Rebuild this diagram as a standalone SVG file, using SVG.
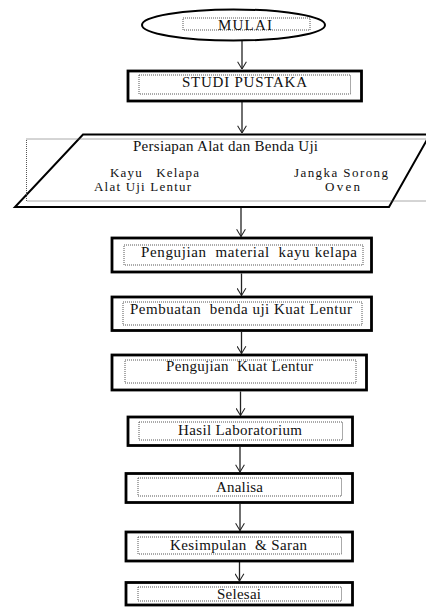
<svg xmlns="http://www.w3.org/2000/svg" width="426" height="607" viewBox="0 0 426 607">
<style>
.box{fill:#fff;stroke:#000;stroke-width:2.8}
.dot{fill:none;stroke:#555;stroke-width:1;stroke-dasharray:1 1}
.t{font-family:"Liberation Serif","DejaVu Serif",serif;font-size:15px;fill:#111}
.s{font-size:13px}
.c{stroke:#222;stroke-width:1.3;fill:none}
</style>
<defs>
<marker id="ah" viewBox="0 0 10 12" refX="9.5" refY="6" markerWidth="8" markerHeight="10" orient="auto" markerUnits="userSpaceOnUse">
<path d="M0.5,0.5 L9.5,6 L0.5,11.5" fill="none" stroke="#222" stroke-width="1.3"/>
</marker>
</defs>
<rect width="426" height="607" fill="#fff"/>
<g id="connectors">
<line class="c" x1="242" y1="41" x2="242" y2="69" marker-end="url(#ah)"/>
<line class="c" x1="242" y1="102" x2="242" y2="133" marker-end="url(#ah)"/>
<line class="c" x1="241" y1="208" x2="241" y2="236.5" marker-end="url(#ah)"/>
<line class="c" x1="241.5" y1="273.5" x2="241.5" y2="295.5" marker-end="url(#ah)"/>
<line class="c" x1="241.5" y1="332" x2="241.5" y2="353.5" marker-end="url(#ah)"/>
<line class="c" x1="240.5" y1="391.5" x2="240.5" y2="415.5" marker-end="url(#ah)"/>
<line class="c" x1="240" y1="447" x2="240" y2="472" marker-end="url(#ah)"/>
<line class="c" x1="240" y1="504" x2="240" y2="530.5" marker-end="url(#ah)"/>
<line class="c" x1="239.5" y1="555" x2="239.5" y2="581" marker-end="url(#ah)"/>
</g>
<g id="mulai">
<ellipse cx="233.5" cy="25" rx="91.5" ry="15.5" fill="#fff" stroke="#000" stroke-width="2"/>
<rect class="dot" x="183" y="18" width="127" height="12"/>
<text class="t" x="218" y="29.5" textLength="54" lengthAdjust="spacing">MULAI</text>
</g>
<g id="studi">
<rect class="box" x="128" y="71" width="233.5" height="30"/>
<rect class="dot" x="139" y="75" width="211.5" height="19"/>
<text class="t" x="182" y="86.5" textLength="125" lengthAdjust="spacing">STUDI PUSTAKA</text>
</g>
<g id="persiapan">
<polygon points="83,134.5 430,134.5 389,207 15,207" fill="#fff" stroke="#000" stroke-width="2"/>
<rect class="dot" x="26.5" y="139" width="410" height="62"/>
<text class="t" x="133" y="150.5" textLength="185" lengthAdjust="spacing">Persiapan Alat dan Benda Uji</text>
<text class="t s" x="110" y="176.5" textLength="89" lengthAdjust="spacing" xml:space="preserve">Kayu   Kelapa</text>
<text class="t s" x="94" y="191" textLength="97" lengthAdjust="spacing">Alat Uji Lentur</text>
<text class="t s" x="294" y="176.5" textLength="94" lengthAdjust="spacing">Jangka Sorong</text>
<text class="t s" x="325" y="191" textLength="35" lengthAdjust="spacing">Oven</text>
</g>
<g id="pengujian-material">
<rect class="box" x="112" y="238" width="259.5" height="34"/>
<rect class="dot" x="124" y="245" width="239" height="20"/>
<text class="t" x="141" y="256.5" textLength="216" lengthAdjust="spacing" xml:space="preserve">Pengujian  material  kayu kelapa</text>
</g>
<g id="pembuatan">
<rect class="box" x="112" y="297" width="259.5" height="33.5"/>
<rect class="dot" x="123" y="302" width="239" height="23"/>
<text class="t" x="130" y="313.5" textLength="222" lengthAdjust="spacing" xml:space="preserve">Pembuatan  benda uji Kuat Lentur</text>
</g>
<g id="pengujian-kuat">
<rect class="box" x="112" y="355" width="254.5" height="35"/>
<rect class="dot" x="125" y="360" width="231" height="23"/>
<text class="t" x="166" y="370.5" textLength="147" lengthAdjust="spacing" xml:space="preserve">Pengujian  Kuat Lentur</text>
</g>
<g id="hasil">
<rect class="box" x="128" y="417" width="224.5" height="28.5"/>
<rect class="dot" x="139" y="422" width="203.5" height="18"/>
<text class="t" x="178" y="434.5" textLength="124" lengthAdjust="spacing">Hasil Laboratorium</text>
</g>
<g id="analisa">
<rect class="box" x="126" y="473.5" width="226.5" height="29"/>
<rect class="dot" x="138" y="478" width="203.5" height="18"/>
<text class="t" x="216" y="491.5" textLength="47" lengthAdjust="spacing">Analisa</text>
</g>
<g id="kesimpulan">
<rect class="box" x="126" y="532" width="226.5" height="29"/>
<rect class="dot" x="138" y="537" width="203.5" height="17"/>
<text class="t" x="170" y="550" textLength="137" lengthAdjust="spacing" xml:space="preserve">Kesimpulan  &amp; Saran</text>
</g>
<g id="selesai">
<rect class="box" x="126" y="582.5" width="226.5" height="22.5"/>
<rect class="dot" x="138" y="587" width="203.5" height="14"/>
<text class="t" x="217" y="599" textLength="44" lengthAdjust="spacing">Selesai</text>
</g>
</svg>
